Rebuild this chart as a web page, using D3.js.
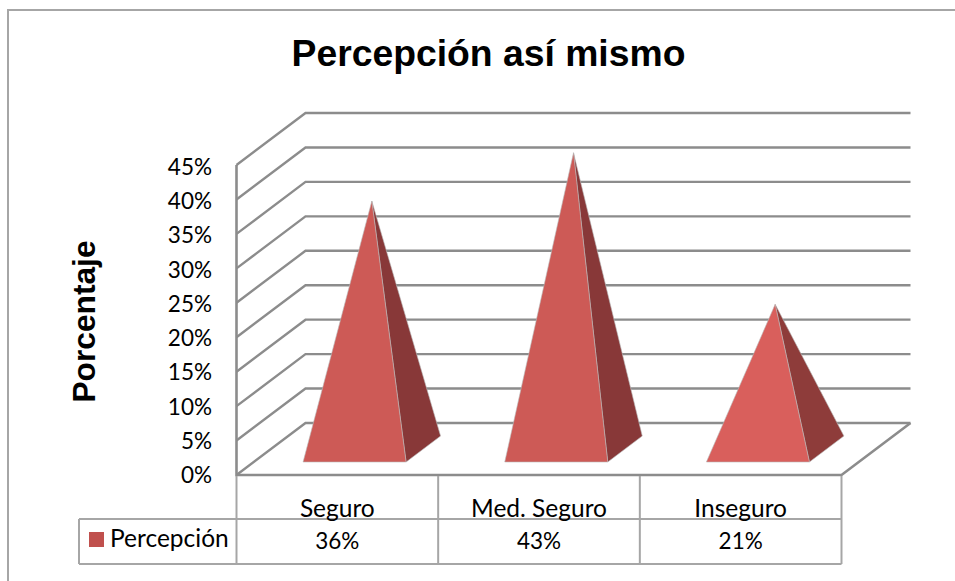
<!DOCTYPE html>
<html>
<head>
<meta charset="utf-8">
<script src="https://cdn.jsdelivr.net/npm/d3@7"></script>
<style>
    html, body { margin: 0; padding: 0; background: #fff; }
    svg { display: block; }
    text { fill: #000; }
</style>
</head>
<body>
<div id="container"></div>
<script>
// datos de la tabla
const categories = ["Seguro", "Med. Seguro", "Inseguro"];
const values = [36, 43, 21];
const yTicks = [0, 5, 10, 15, 20, 25, 30, 35, 40, 45];
const seriesName = "Percepción";
const titleText = "Percepción así mismo";
const yTitle = "Porcentaje";

const WIDTH = 955;
const HEIGHT = 581;
const GRID = "#8c8c8c";
const TABLE = "#a6a6a6";
const FRONT = ["#cd5a56", "#cd5a56", "#d95f5c"];
const SIDE = ["#883838", "#883838", "#8e3c3a"];
const LEGEND = "#c0504d";
const LABEL_FONT = "Lato, Carlito, sans-serif";
const BOLD_FONT = "'Liberation Sans', Arial, sans-serif";
const WORD_SIZE = "24.5px";
const NUM_SIZE = "22.5px";

// profundidad del grafico 3D
const DX = 69;
const DY = -52;

const x = d3.scaleBand().domain(categories).range([236.5, 841.5]);
const y = d3.scaleLinear().domain([0, 45]).range([475, 165]);
// las etiquetas del eje no caen exacto sobre las lineas
const yLabel = d3.scaleLinear().domain([0, 45]).range([483, 175]);

const svg = d3.select("#container").append("svg")
    .attr("width", WIDTH)
    .attr("height", HEIGHT);

// marco
svg.append("path")
    .attr("d", `M8,${HEIGHT}V10H${WIDTH}`)
    .attr("fill", "none")
    .attr("stroke", TABLE)
    .attr("stroke-width", 2);

svg.append("text")
    .attr("x", 488.5)
    .attr("y", 66)
    .attr("text-anchor", "middle")
    .style("font-family", BOLD_FONT)
    .style("font-weight", "bold")
    .style("font-size", "37.3px")
    .text(titleText);

svg.append("text")
    .attr("transform", "translate(95,321.5) rotate(-90)")
    .attr("text-anchor", "middle")
    .style("font-family", BOLD_FONT)
    .style("font-weight", "bold")
    .style("font-size", "31.7px")
    .text(yTitle);

// rejilla: diagonal + horizontal por cada tick
const x0 = x.range()[0];
const x1 = x.range()[1];
svg.append("g").selectAll("path")
    .data(yTicks)
    .enter()
    .append("path")
    .attr("d", (d) => `M${x0},${y(d)}L${x0 + DX},${y(d) + DY}H${x1 + DX}`)
    .attr("fill", "none")
    .attr("stroke", GRID)
    .attr("stroke-width", 2.4);

// piso y pared
svg.append("path")
    .attr("d", `M${x0},${y(45)}V${y(0)}H${x1}L${x1 + DX},${y(0) + DY}`)
    .attr("fill", "none")
    .attr("stroke", GRID)
    .attr("stroke-width", 2.6);

svg.append("g").selectAll("text")
    .data(yTicks)
    .enter()
    .append("text")
    .attr("x", 212)
    .attr("y", (d) => yLabel(d))
    .attr("text-anchor", "end")
    .style("font-family", LABEL_FONT)
    .style("font-size", NUM_SIZE)
    .text((d) => d + "%");

// piramides
const HALF = 51.5;
function corner(c, dx, f) {
    // c: centro de la banda, f: fraccion de profundidad
    return [c + dx + DX * f, y(0) + DY * f];
}
const bars = svg.append("g").selectAll("g")
    .data(categories)
    .enter()
    .append("g");

bars.each(function (d, i) {
    const c = x(d) + x.bandwidth() / 2;
    const a = corner(c, -HALF, 0.25);
    const b = corner(c, HALF, 0.25);
    const e = corner(c, HALF, 0.75);
    const m = corner(c, 0, 0.5);
    const top = [m[0], y(values[i]) + DY * 0.5];
    const g = d3.select(this);
    g.append("path")
        .attr("d", d3.line()([b, e, top]) + "Z")
        .attr("fill", SIDE[i])
        .attr("stroke", "#b9b9b9")
        .attr("stroke-width", 0.6);
    g.append("path")
        .attr("d", d3.line()([a, b, top]) + "Z")
        .attr("fill", FRONT[i])
        .attr("stroke", "#b9b9b9")
        .attr("stroke-width", 0.6);
});

// tabla de datos
const tableTop = y(0);
const rowLine = 519;
const tableBottom = 564;
const legendLeft = 79;
const tableLines = svg.append("g")
    .attr("fill", "none")
    .attr("stroke", TABLE)
    .attr("stroke-width", 2);
tableLines.append("path")
    .attr("d", `M${legendLeft},${rowLine}H${x1}M${legendLeft},${tableBottom}H${x1}M${legendLeft},${rowLine}V${tableBottom}`);
tableLines.selectAll(".col")
    .data([...categories, "end"])
    .enter()
    .append("path")
    .attr("class", "col")
    .attr("d", (d) => `M${d === "end" ? x1 : x(d)},${tableTop + 1}V${tableBottom}`);

svg.append("g").selectAll("text")
    .data(categories)
    .enter()
    .append("text")
    .attr("x", (d) => x(d) + x.bandwidth() / 2)
    .attr("y", 517)
    .attr("text-anchor", "middle")
    .style("font-family", LABEL_FONT)
    .style("font-size", WORD_SIZE)
    .text((d) => d);

svg.append("g").selectAll("text")
    .data(values)
    .enter()
    .append("text")
    .attr("x", (d, i) => x(categories[i]) + x.bandwidth() / 2)
    .attr("y", 549)
    .attr("text-anchor", "middle")
    .style("font-family", LABEL_FONT)
    .style("font-size", NUM_SIZE)
    .text((d) => d + "%");

// leyenda
svg.append("rect")
    .attr("x", 89)
    .attr("y", 532)
    .attr("width", 15)
    .attr("height", 15)
    .attr("fill", LEGEND);
svg.append("text")
    .attr("x", 110)
    .attr("y", 547)
    .style("font-family", LABEL_FONT)
    .style("font-size", WORD_SIZE)
    .text(seriesName);
</script>
</body>
</html>
